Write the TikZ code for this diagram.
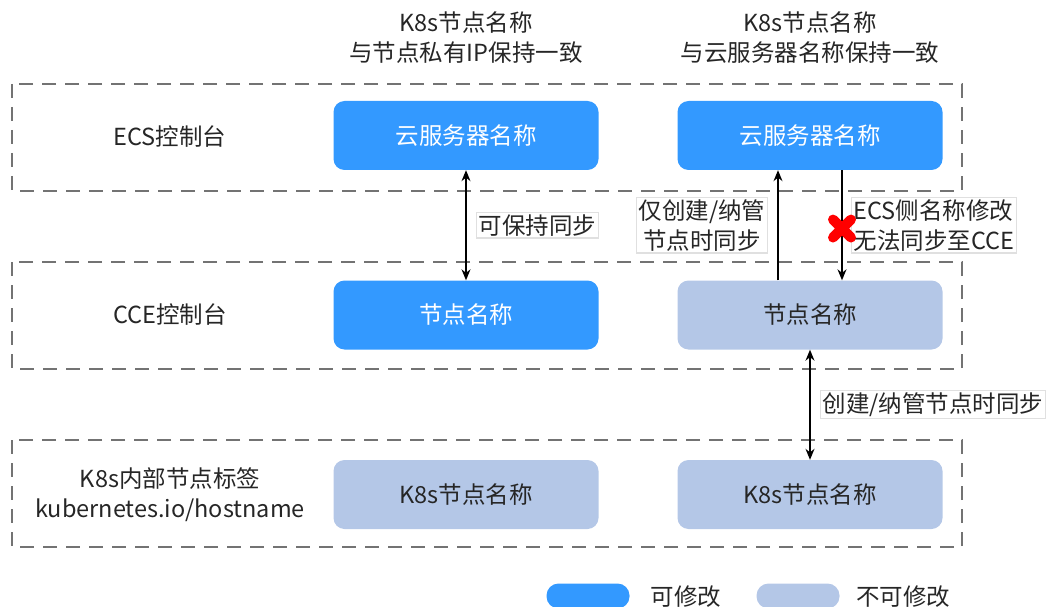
\documentclass[tikz,border=0pt]{standalone}
\usepackage{fontspec}
\setmainfont{Noto Sans CJK SC}
\usetikzlibrary{positioning, arrows.meta}
\definecolor{mblue}{HTML}{3399FF}
\definecolor{lblue}{HTML}{B4C7E7}
\definecolor{tgray}{HTML}{262626}
\tikzset{zone/.style = {draw=black!55, line width=1.6pt, dash pattern=on 14pt off 9pt},
    mb/.style = {rounded corners=11pt, fill=mblue, text=white, minimum width=265pt, minimum height=69pt, inner sep=0pt},
    fb/.style = {mb, fill=lblue, text=tgray},
    txt/.style = {text=tgray, align=center, inner sep=1pt},
    lbl/.style = {txt, fill=white, draw=black!12, inner sep=2pt}}

\begin{document}
\begin{tikzpicture}[x=1pt, y=-1pt, >={Stealth[length=11pt, width=9pt]}, font=\fontsize{23.5}{30}\selectfont]
    \useasboundingbox (0,0) rectangle (1050,607);
    \foreach \y in {84, 262, 440} \draw[zone] (12,\y) rectangle (962,\y+107);

    \node[txt] (h1) at (466,38) {K8s节点名称\\与节点私有IP保持一致};
    \node[txt] (h2) at (810,38) {K8s节点名称\\与云服务器名称保持一致};

    \node[txt] (ecs) at (170,137) {ECS控制台};
    \node[txt] (cce) at (170,315) {CCE控制台};
    \node[txt] (lab) at (170,495) {K8s内部节点标签\\kubernetes.io/hostname};

    \node[mb] (ecs1) at (466,135.5) {云服务器名称};
    \node[mb] (ecs2) at (810,135.5) {云服务器名称};
    \node[mb] (cce1) at (466,315) {节点名称};
    \node[fb] (cce2) at (810,315) {节点名称};
    \node[fb] (k1)   at (466,494.5) {K8s节点名称};
    \node[fb] (k2)   at (810,494.5) {K8s节点名称};

    \draw[<->, line width=1.3pt] (ecs1) -- node[lbl, right=10pt] (s1) {可保持同步} (cce1);
    \draw[->, line width=1.3pt] ([xshift=-32pt]cce2.north) -- node[lbl, left=10pt] (s2) {仅创建/纳管\\节点时同步} ([xshift=-32pt]ecs2.south);
    \draw[->, line width=1.3pt] ([xshift=32pt]ecs2.south) -- node[lbl, right=9pt, align=left] (s3) {ECS侧名称修改\\无法同步至CCE} coordinate[pos=.53] (x) ([xshift=32pt]cce2.north);
    \draw[red, line width=10pt, line cap=round] (x) ++(-9,-9) -- ++(18,18) (x) ++(-9,9) -- ++(18,-18);
    \draw[<->, line width=1.3pt] (cce2) -- node[lbl, right=10pt] (s4) {创建/纳管节点时同步} (k2);

    % legend
    \node[mb, minimum width=83pt, minimum height=25pt, rounded corners=12pt] (lg1) at (588,596) {};
    \node[txt] (lt1) at (686,597) {可修改};
    \node[fb, minimum width=83pt, minimum height=25pt, rounded corners=12pt] (lg2) at (798,596) {};
    \node[txt] (lt2) at (903,597) {不可修改};
\end{tikzpicture}
\end{document}
